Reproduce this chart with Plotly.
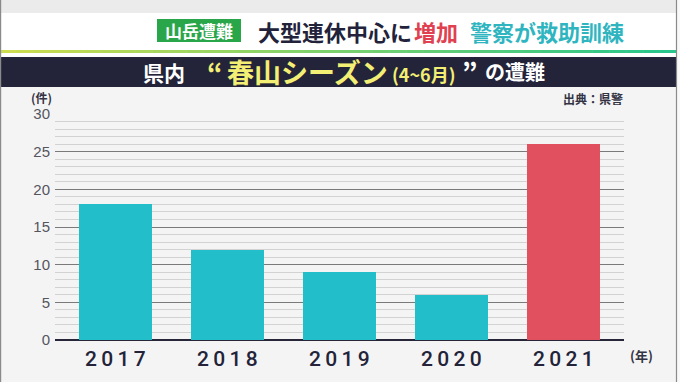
import plotly.graph_objects as go

# ---- data ----
years = ["2017", "2018", "2019", "2020", "2021"]
year_labels = ["2\u20090\u20091\u20097", "2\u20090\u20091\u20098", "2\u20090\u20091\u20099",
               "2\u20090\u20092\u20090", "2\u20090\u20092\u20091"]
cases = [18, 12, 9, 6, 26]
bar_colors = ["#22bfcb", "#22bfcb", "#22bfcb", "#22bfcb", "#e0505e"]
y_ticks = [0, 5, 10, 15, 20, 25, 30]

W, H = 680, 382
def px(x): return x / W
def py(y): return 1 - y / H

JP = "Noto Sans CJK JP"
NUM = "Liberation Sans, Arial, sans-serif"

fig = go.Figure()
fig.add_trace(go.Bar(
    x=list(range(len(years))), y=cases, marker=dict(color=bar_colors, line=dict(width=0)),
    width=0.65, hoverinfo="skip"))

shapes = []
# top strip
shapes.append(dict(type="rect", xref="paper", yref="paper", x0=0, x1=1, y0=py(13), y1=1,
                   fillcolor="#ebebeb", line=dict(width=0), layer="below"))
# white header band
shapes.append(dict(type="rect", xref="paper", yref="paper", x0=0, x1=px(677), y0=py(57), y1=py(13),
                   fillcolor="#ffffff", line=dict(width=0), layer="below"))
# gradient line
n = 40
c0 = (205, 220, 80)
c1 = (40, 198, 140)
for i in range(n):
    t = i / (n - 1)
    col = "rgb(%d,%d,%d)" % tuple(int(c0[k] + (c1[k] - c0[k]) * t) for k in range(3))
    shapes.append(dict(type="rect", xref="paper", yref="paper",
                       x0=px(677 * i / n), x1=px(677 * (i + 1) / n + 0.5),
                       y0=py(53), y1=py(50), fillcolor=col, line=dict(width=0), layer="below"))
# navy title band
shapes.append(dict(type="rect", xref="paper", yref="paper", x0=0, x1=px(677), y0=py(87), y1=py(57),
                   fillcolor="#23243a", line=dict(width=0), layer="below"))
# right margin strip and borders
shapes.append(dict(type="rect", xref="paper", yref="paper", x0=px(677), x1=1, y0=0, y1=1,
                   fillcolor="#f9f9f9", line=dict(width=0), layer="below"))
for xx in (0.6, 676.5):
    shapes.append(dict(type="line", xref="paper", yref="paper", x0=px(xx), x1=px(xx), y0=0, y1=1,
                       line=dict(color="#8a8a8a", width=1.2), layer="above"))
# green tag box
shapes.append(dict(type="rect", xref="paper", yref="paper", x0=px(157), x1=px(241), y0=py(42), y1=py(19),
                   fillcolor="#2aa64a", line=dict(width=0), layer="below"))

ann = []
def A(text, x, y, size, color, xanchor="left", family=JP):
    ann.append(dict(text=text, x=px(x), y=py(y), xref="paper", yref="paper", showarrow=False,
                    xanchor=xanchor, yanchor="middle", font=dict(family=family, size=size, color=color)))

A("<b>山岳遭難</b>", 199, 30.5, 17, "#ffffff", "center")
A("<b>大型連休中心に</b>", 256, 31, 22, "#22223a")
A("<b>増加</b>", 412, 31, 22, "#e0404f")
A("<b>警察が救助訓練</b>", 626, 31, 22, "#2fb5c0", "right")

A("<b>県内</b>", 141, 72, 21, "#ffffff")
A("<b>“</b>", 225, 71, 27, "#f3ef74", "right")
A("<b>春山シーズン</b>", 225, 72, 27, "#f3ef74")
A("<b>(4~6月)</b>", 390, 74, 18, "#f3ef74")
A("<b>”</b>", 460, 71, 27, "#ffffff")
A("<b>の遭難</b>", 483, 72, 20, "#ffffff")

A("<b>(件)</b>", 41, 97, 12, "#333344", "center")
A("<b>出典：県警</b>", 625, 98, 12, "#333344", "right")
A("<b>(年)</b>", 641, 355, 13, "#333344", "center")

fig.update_layout(
    width=W, height=H, autosize=False,
    margin=dict(l=0, r=0, t=0, b=0),
    paper_bgcolor="#f4f4f4", plot_bgcolor="rgba(0,0,0,0)",
    showlegend=False, shapes=shapes, annotations=ann,
    xaxis=dict(domain=[px(55), px(624)], range=[-0.539, 4.541], automargin=False,
               tickmode="array", tickvals=list(range(len(years))), ticktext=year_labels,
               tickfont=dict(family="Roboto, " + NUM, size=21, color="#23233a", weight=500),
               showgrid=False, zeroline=False, showline=False, ticks="",
               ticklabelstandoff=4, fixedrange=True),
    yaxis=dict(domain=[py(340), py(114)], range=[0, 30], automargin=False,
               tickmode="array", tickvals=y_ticks,
               tickfont=dict(family=NUM, size=15, color="#555560"),
               showgrid=True, gridcolor="#7a7a7a", gridwidth=1.4,
               minor=dict(dtick=1, showgrid=True, gridcolor="#d2d2d2", gridwidth=1),
               zeroline=True, zerolinecolor="#262638", zerolinewidth=2.2,
               showline=False, ticks="", ticklabelstandoff=4, fixedrange=True),
    bargap=0,
)

fig.write_html("out.html", config={"displayModeBar": False},
               post_script="document.body.style.margin='0';document.body.style.overflow='hidden';")
